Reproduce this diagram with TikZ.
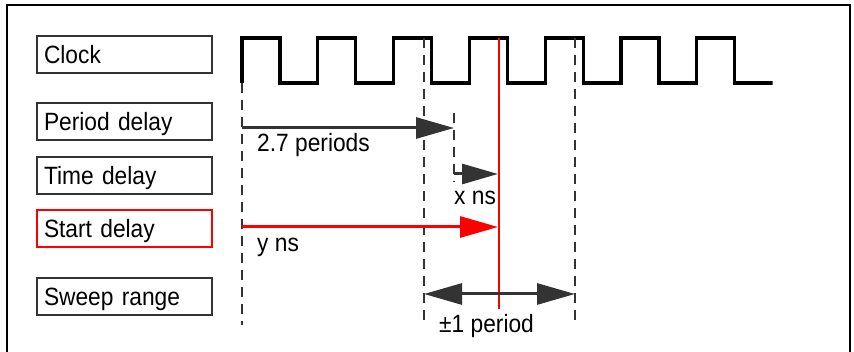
\documentclass[tikz,border=0pt]{standalone}
\usepackage{fontspec}
\setmainfont{Liberation Sans}[FakeStretch=0.91]
\usetikzlibrary{arrows.meta}
\definecolor{dk}{HTML}{333333}
\definecolor{rd}{HTML}{FF0000}
\tikzset{
  lbl/.style={draw=dk, line width=2pt, minimum width=175pt, minimum height=37pt,
    text width=161pt, align=left, inner xsep=7pt, inner ysep=0pt,
    text height=18pt, text depth=0pt, font=\fontsize{25}{25}\selectfont},
  txt/.style={inner sep=0pt, font=\fontsize{25}{25}\selectfont},
  guide/.style={draw=dk, line width=2pt, dash pattern=on 10pt off 7pt},
  wave/.style={draw=black, line width=3.2pt, line join=miter},
  darr/.style={draw=dk, line width=3pt, -{Triangle[length=38pt, width=21pt]}},
  rarr/.style={draw=rd, line width=3pt, -{Triangle[length=38pt, width=21pt]}},
}
\begin{document}
\begin{tikzpicture}[x=1pt, y=-1pt]
\useasboundingbox (0,0) rectangle (854,352);
% outer frame
\draw[line width=2pt] (7,5) rectangle (850,370);
% labels
\node[lbl] (clk) at (124.5,54.5) {Clock};
\node[lbl] (pd) at (124.5,122) {Period delay};
\node[lbl] (td) at (124.5,176) {Time delay};
\node[lbl, draw=rd] (sd) at (124.5,228.5) {Start delay};
\node[lbl] (sr) at (124.5,297) {Sweep range};
% clock waveform
\draw[wave] (242,83)
  \foreach \k in {0,...,6} {
    -- ({242+75.8*\k},38) -- ({279.9+75.8*\k},38) -- ({279.9+75.8*\k},83) -- ({317.8+75.8*\k},83)
  } -- (772,83);
% guide lines
\coordinate (g0t) at (242,83);  \coordinate (g0b) at (242,325);
\coordinate (g1t) at (424,38);  \coordinate (g1b) at (424,325);
\coordinate (g2t) at (454,113); \coordinate (g2b) at (454,182);
\coordinate (g3t) at (575,38);  \coordinate (g3b) at (575,325);
\draw[guide] (g0t) -- (g0b);
\draw[guide] (g1t) -- (g1b);
\draw[guide] (g2t) -- (g2b);
\draw[guide] (g3t) -- (g3b);
% red marker
\coordinate (rt) at (499,38); \coordinate (rb) at (499,309);
\draw[draw=rd, line width=2pt] (rt) -- (rb);
% arrows
\coordinate (pa) at (242,128); \coordinate (pb) at (454,128);
\draw[darr] (pa) -- (pb);
\coordinate (ta) at (454,174); \coordinate (tb) at (498,174);
\draw[darr, -{Triangle[length=36pt, width=20pt]}] (ta) -- (tb);
\coordinate (sa) at (242,227); \coordinate (sb) at (498,227);
\draw[rarr] (sa) -- (sb);
\coordinate (wa) at (424,294); \coordinate (wb) at (575,294);
\draw[darr, {Triangle[length=38pt, width=21pt]}-{Triangle[length=38pt, width=21pt]}] (wa) -- (wb);
% texts
\node[txt, anchor=base west] (t1) at (257,152) {2.7 periods};
\node[txt, anchor=base west] (t2) at (454,205) {x ns};
\node[txt, anchor=base west] (t3) at (257,252) {y ns};
\node[txt, anchor=base west] (t4) at (439,333) {±1 period};
\end{tikzpicture}
\end{document}
